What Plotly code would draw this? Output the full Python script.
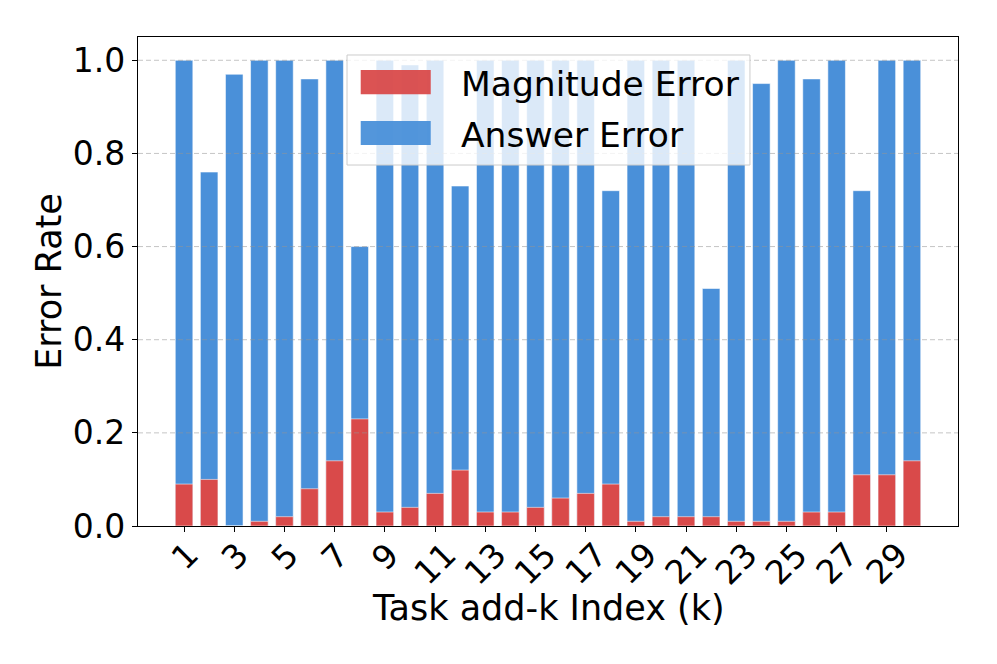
import plotly.graph_objects as go

tasks = list(range(1, 31))
answer_error = [1.00, 0.76, 0.97, 1.00, 1.00, 0.96, 1.00, 0.60, 1.00, 0.99,
                1.00, 0.73, 1.00, 1.00, 1.00, 1.00, 1.00, 0.72, 1.00, 1.00,
                1.00, 0.51, 1.00, 0.95, 1.00, 0.96, 1.00, 0.72, 1.00, 1.00]
magnitude_error = [0.09, 0.10, 0.00, 0.01, 0.02, 0.08, 0.14, 0.23, 0.03, 0.04,
                   0.07, 0.12, 0.03, 0.03, 0.04, 0.06, 0.07, 0.09, 0.01, 0.02,
                   0.02, 0.02, 0.01, 0.01, 0.01, 0.03, 0.03, 0.11, 0.11, 0.14]
tick_vals = list(range(1, 31, 2))
tick_text = [str(v) for v in tick_vals]
y_ticks = [0.0, 0.2, 0.4, 0.6, 0.8, 1.0]
legend_names = ["Magnitude Error", "Answer Error"]

BLUE = "#4A90D9"
RED = "#D94A4A"
FONT = "DejaVu Sans"
TICK_SIZE = 33
LABEL_SIZE = 35

fig = go.Figure()
fig.add_trace(go.Bar(x=tasks, y=answer_error, name=legend_names[1], width=0.7,
                     marker=dict(color=BLUE, line=dict(color="rgba(255,255,255,0.55)", width=1)),
                     showlegend=False))
fig.add_trace(go.Bar(x=tasks, y=magnitude_error, name=legend_names[0], width=0.7,
                     marker=dict(color=RED, line=dict(color="rgba(255,255,255,0.55)", width=1)),
                     showlegend=False))

shapes = []
# dashed grid drawn above bars
for yv in y_ticks[1:]:
    shapes.append(dict(type="line", xref="paper", x0=0, x1=1, yref="y", y0=yv, y1=yv,
                       line=dict(color="rgba(150,150,150,0.55)", width=1, dash="5px,3px"),
                       layer="above"))
# legend box
shapes.append(dict(type="rect", xref="paper", yref="paper", x0=0.2549, x1=0.7463,
                   y0=0.7382, y1=0.9632, fillcolor="rgba(255,255,255,0.8)",
                   line=dict(color="#cccccc", width=1), layer="above"))
shapes.append(dict(type="rect", xref="paper", yref="paper", x0=0.2716, x1=0.357,
                   y0=0.8828, y1=0.9325, fillcolor=RED, opacity=0.95,
                   line=dict(width=0), layer="above"))
shapes.append(dict(type="rect", xref="paper", yref="paper", x0=0.2716, x1=0.357,
                   y0=0.7791, y1=0.8282, fillcolor=BLUE, opacity=0.95,
                   line=dict(width=0), layer="above"))

annotations = []
annotations.append(dict(text=legend_names[0], xref="paper", yref="paper", x=0.3915, y=0.9039,
                        xanchor="left", yanchor="middle", showarrow=False,
                        font=dict(family=FONT, size=34.5, color="black")))
annotations.append(dict(text=legend_names[1], xref="paper", yref="paper", x=0.3915, y=0.7996,
                        xanchor="left", yanchor="middle", showarrow=False,
                        font=dict(family=FONT, size=34.5, color="black")))
for v, t in zip(tick_vals, tick_text):
    annotations.append(dict(text=t, x=v, xref="x", y=0, yref="paper", yshift=-6,
                            textangle=-45, xanchor="center", yanchor="top", showarrow=False,
                            font=dict(family=FONT, size=TICK_SIZE, color="black")))
annotations.append(dict(text="Task add-k Index (k)", xref="paper", yref="paper", x=0.5, y=0,
                        yshift=-82, xanchor="center", yanchor="middle", showarrow=False,
                        font=dict(family=FONT, size=LABEL_SIZE, color="black")))

fig.update_layout(
    width=997, height=664,
    barmode="overlay",
    plot_bgcolor="white", paper_bgcolor="white",
    margin=dict(l=130, r=47, t=29, b=146),
    font=dict(family=FONT, color="black"),
    shapes=shapes, annotations=annotations,
    showlegend=False,
)
fig.update_xaxes(range=[-0.835, 31.835], tickvals=tick_vals, showticklabels=False,
                 ticks="outside", ticklen=5, tickwidth=1, tickcolor="black",
                 showline=True, linecolor="black", linewidth=1.2, mirror=True,
                 showgrid=False, zeroline=False)
fig.update_yaxes(range=[0, 1.05], tickvals=y_ticks, tickformat=".1f",
                 ticks="outside", ticklen=5, tickwidth=1, tickcolor="black",
                 tickfont=dict(family=FONT, size=TICK_SIZE, color="black"),
                 showline=True, linecolor="black", linewidth=1.2, mirror=True,
                 showgrid=False, zeroline=False,
                 title=dict(text="Error Rate", font=dict(family=FONT, size=LABEL_SIZE, color="black"),
                            standoff=0))

fig.write_html("out.html")
